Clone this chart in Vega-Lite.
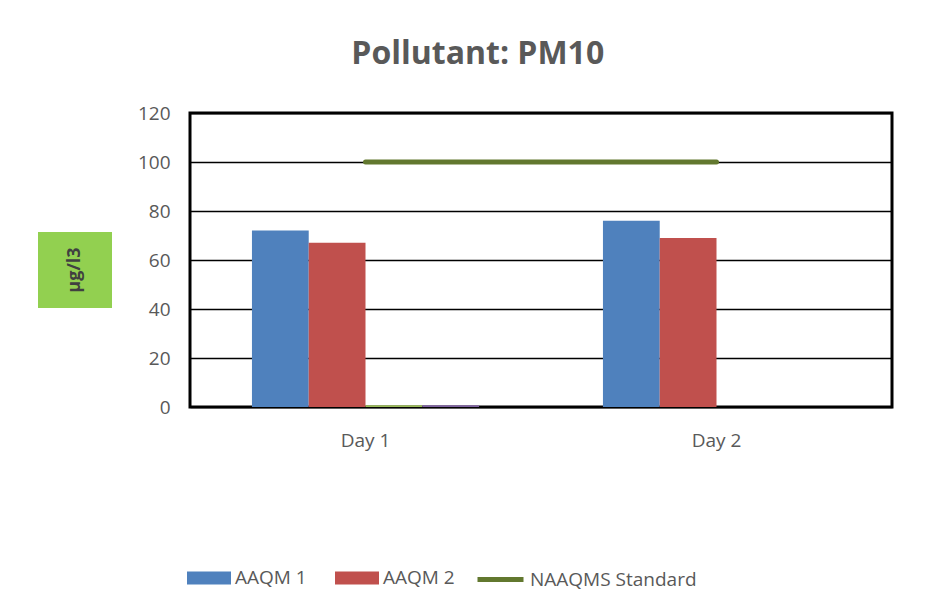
{
  "$schema": "https://vega.github.io/schema/vega-lite/v6.json",
  "background": "white",
  "padding": {"left": 38, "top": 37, "right": 10, "bottom": 5},
  "title": {
    "text": "Pollutant: PM10",
    "font": "Open Sans",
    "fontSize": 32,
    "fontWeight": "bold",
    "color": "#595959",
    "anchor": "middle",
    "offset": 32,
    "dx": 12
  },
  "datasets": {
    "bars": [
      {"day": "Day 1", "series": "AAQM 1", "value": 72},
      {"day": "Day 1", "series": "AAQM 2", "value": 67},
      {"day": "Day 1", "series": "AAQM 3", "value": 0.7},
      {"day": "Day 1", "series": "AAQM 4", "value": 0.7},
      {"day": "Day 2", "series": "AAQM 1", "value": 76},
      {"day": "Day 2", "series": "AAQM 2", "value": 69},
      {"day": "Day 2", "series": "AAQM 3", "value": 0},
      {"day": "Day 2", "series": "AAQM 4", "value": 0}
    ],
    "standard": [
      {"day": "Day 1", "series": "NAAQMS Standard", "value": 100},
      {"day": "Day 2", "series": "NAAQMS Standard", "value": 100}
    ],
    "unit": [{"label": "µg/l3"}]
  },
  "spacing": 23,
  "hconcat": [
    {
      "spacing": 0,
      "vconcat": [
        {
          "width": 74,
          "height": 119,
          "data": {"name": "unit"},
          "mark": {"type": "point", "opacity": 0},
          "encoding": {}
        },
        {
          "width": 74,
          "height": 76,
          "view": {"fill": "#92D050", "stroke": null},
          "data": {"name": "unit"},
          "mark": {
            "type": "text",
            "angle": 270,
            "align": "center",
            "baseline": "middle",
            "font": "Open Sans",
            "fontSize": 18,
            "fontWeight": "bold",
            "color": "#404040"
          },
          "encoding": {"text": {"field": "label"}}
        }
      ]
    },
    {
      "width": 702,
      "height": 294,
      "view": {"stroke": "black", "strokeWidth": 3},
      "layer": [
        {
          "data": {"name": "bars"},
          "mark": {"type": "bar"},
          "encoding": {
            "x": {
              "field": "day",
              "type": "nominal",
              "scale": {"paddingInner": 0.353, "paddingOuter": 0.1765},
              "axis": {
                "title": null,
                "labelAngle": 0,
                "ticks": false,
                "domain": false,
                "labelPadding": 24,
                "labelFont": "Open Sans",
                "labelFontSize": 19,
                "labelColor": "#595959"
              }
            },
            "xOffset": {
              "field": "series",
              "sort": ["AAQM 1", "AAQM 2", "AAQM 3", "AAQM 4"]
            },
            "y": {
              "field": "value",
              "type": "quantitative",
              "scale": {"domain": [0, 120]},
              "axis": {
                "title": null,
                "values": [0, 20, 40, 60, 80, 100, 120],
                "grid": true,
                "gridColor": "black",
                "gridWidth": 1.5,
                "gridOpacity": 1,
                "ticks": false,
                "domain": false,
                "labelPadding": 20,
                "labelFont": "Open Sans",
                "labelFontSize": 19,
                "labelColor": "#595959"
              }
            },
            "fill": {
              "field": "series",
              "type": "nominal",
              "scale": {
                "domain": ["AAQM 1", "AAQM 2", "AAQM 3", "AAQM 4"],
                "range": ["#4F81BD", "#C0504D", "#9BBB59", "#8064A2"]
              },
              "legend": {
                "orient": "none",
                "legendX": 149,
                "legendY": 443,
                "direction": "horizontal",
                "title": null,
                "values": ["AAQM 1", "AAQM 2"],
                "symbolType": "M-1,-0.3H1V0.3H-1Z",
                "symbolSize": 1936,
                "symbolStrokeWidth": 0,
                "labelFont": "Open Sans",
                "labelFontSize": 19,
                "labelColor": "#595959",
                "labelOffset": 4,
                "labelLimit": 300,
                "columnPadding": 28,
                "padding": 0
              }
            }
          }
        },
        {
          "data": {"name": "standard"},
          "mark": {"type": "line", "strokeWidth": 5, "strokeCap": "round"},
          "encoding": {
            "x": {"field": "day", "type": "nominal"},
            "y": {"field": "value", "type": "quantitative"},
            "stroke": {
              "field": "series",
              "type": "nominal",
              "scale": {"domain": ["NAAQMS Standard"], "range": ["#62782F"]},
              "legend": {
                "orient": "none",
                "legendX": 437,
                "legendY": 441,
                "title": null,
                "symbolType": "stroke",
                "symbolSize": 2116,
                "symbolStrokeWidth": 5,
                "labelFont": "Open Sans",
                "labelFontSize": 19,
                "labelColor": "#595959",
                "labelOffset": 4,
                "labelLimit": 300,
                "padding": 0
              }
            }
          }
        }
      ]
    }
  ],
  "config": {"view": {"stroke": null}}
}
